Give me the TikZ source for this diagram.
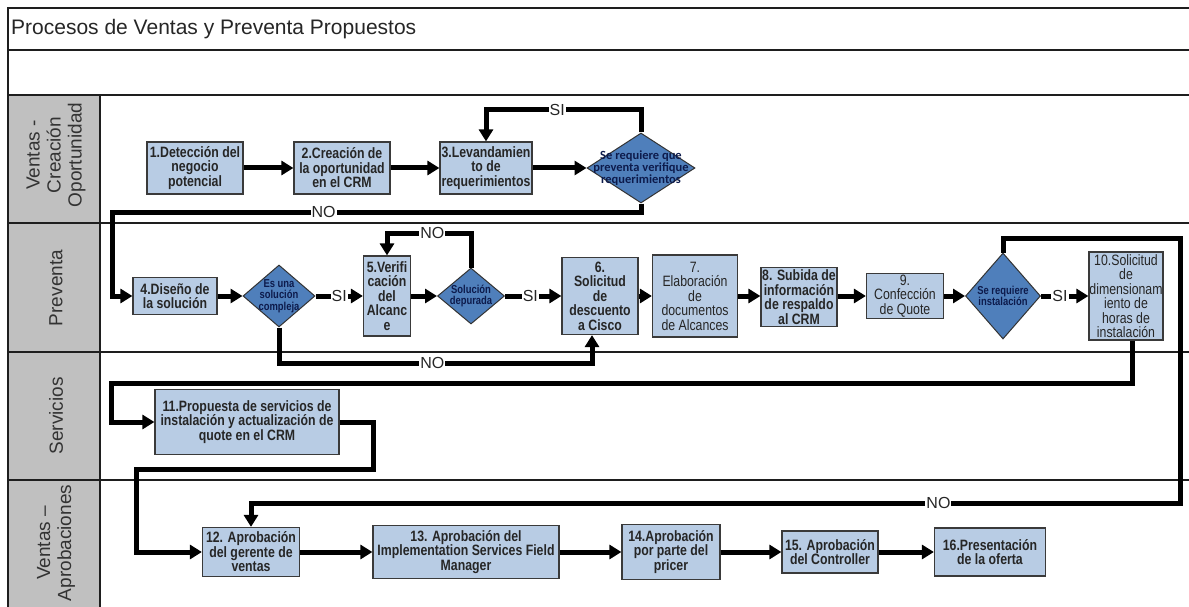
\documentclass[tikz,border=0pt]{standalone}
\usepackage{fontspec}
\setmainfont{Liberation Sans}
\newfontfamily\nar{Liberation Sans}[FakeStretch=0.82]
\newfontfamily\carl{Carlito}
\usetikzlibrary{arrows.meta,shapes.geometric}
\definecolor{boxblue}{HTML}{B8CCE4}
\definecolor{diablue}{HTML}{4F7FBB}
\definecolor{lanegray}{HTML}{C0C0C0}
\definecolor{navy}{HTML}{0D1B4C}
\definecolor{framecol}{HTML}{1E1E1E}
\definecolor{boxedge}{HTML}{3A3A3A}
\begin{document}
\begin{tikzpicture}[x=1pt,y=-1pt,
  box/.style={draw=boxedge, line width=1.2pt, fill=boxblue, align=center, inner sep=0pt,
    font=\nar\bfseries\fontsize{15}{14.5}\selectfont, text=black!85},
  boxr/.style={box, font=\nar\fontsize{15}{14.5}\selectfont},
  dia/.style={diamond, draw=black!80, line width=1pt, fill=diablue, inner sep=0pt},
  dtxt/.style={align=center, inner sep=0pt, text=navy, font=\nar\bfseries\fontsize{11.5}{11.5}\selectfont},
  conn/.style={line width=5pt, -{Triangle[length=12pt,width=14pt]}},
  lbl/.style={fill=white, inner sep=1pt, font=\fontsize{16}{16}\selectfont, text=black!85},
  lane/.style={rotate=90, align=center, font=\fontsize{19}{21}\selectfont, text=black!80},
  frameln/.style={draw=framecol, line width=1.6pt}
]
\useasboundingbox (0,0) rectangle (1189,607);
\fill[white] (0,0) rectangle (1189,607);
% frame
\fill[lanegray] (8,95) rectangle (100,607);
\draw[frameln] (8,607) -- (8,8) -- (1189,8);
\draw[frameln] (8,50) -- (1189,50);
\draw[frameln] (8,95) -- (1189,95);
\draw[frameln] (8,223) -- (1189,223);
\draw[frameln] (8,352) -- (1189,352);
\draw[frameln] (8,480) -- (1189,480);
\draw[frameln] (100,95) -- (100,607);
\node[anchor=west, inner sep=0pt, font=\fontsize{21}{21}\selectfont, text=black!85] (title) at (11,29) {Procesos de Ventas y Preventa Propuestos};
% lane labels
\node[lane] (L1) at (56,155) {Ventas -\\Creación\\Oportunidad};
\node[lane] (L2) at (56,288) {Preventa};
\node[lane] (L3) at (56,416) {Servicios};
\node[lane] (L4) at (56,543) {Ventas –\\Aprobaciones};
% lane 1
\node[box, minimum width=96pt, minimum height=52pt] (b1) at (195,168) {1.Detección del\\negocio\\potencial};
\node[box, minimum width=96pt, minimum height=52pt] (b2) at (342,168) {2.Creación de\\la oportunidad\\en el CRM};
\node[box, minimum width=92pt, minimum height=52pt] (b3) at (486,168) {3.Levandamien\\to de\\requerimientos};
\node[dia, minimum width=108pt, minimum height=70pt] (d1) at (641,168) {};
\node[dtxt, font=\carl\bfseries\fontsize{12.5}{10.5}\selectfont] (d1t) at (d1) {Se requiere que\\preventa verifique\\requerimientos};
% lane 2
\node[box, minimum width=84pt, minimum height=37pt] (b4) at (175,296) {4.Diseño de\\la solución};
\node[dia, minimum width=72pt, minimum height=62pt] (d2) at (279,296) {};
\node[dtxt] (d2t) at (d2) {Es una\\solución\\compleja};
\node[box, minimum width=47pt, minimum height=80pt] (b5) at (387,296) {5.Verifi\\cación\\del\\Alcanc\\e};
\node[dia, minimum width=67pt, minimum height=56pt] (d3) at (471,296) {};
\node[dtxt] (d3t) at (d3) {Solución\\depurada};
\node[box, minimum width=76pt, minimum height=77pt] (b6) at (600,296) {6.\\Solicitud\\de\\descuento\\a Cisco};
\node[boxr, minimum width=85pt, minimum height=82pt] (b7) at (695,296) {7.\\Elaboración\\de\\documentos\\de Alcances};
\node[box, minimum width=76pt, minimum height=59pt] (b8) at (799,297) {8. Subida de\\información\\de respaldo\\al CRM};
\node[boxr, minimum width=77pt, minimum height=45pt] (b9) at (905,296) {9.\\Confección\\de Quote};
\node[dia, minimum width=75pt, minimum height=86pt] (d4) at (1003,296) {};
\node[dtxt] (d4t) at (d4) {Se requiere\\instalación};
\node[boxr, minimum width=74pt, minimum height=88pt] (b10) at (1126,296) {10.Solicitud\\de\\dimensionam\\iento de\\horas de\\instalación};
% lane 3
\node[box, minimum width=184pt, minimum height=65pt] (b11) at (247,422) {11.Propuesta de servicios de\\instalación y actualización de\\quote en el CRM};
% lane 4
\node[box, minimum width=97pt, minimum height=49pt] (b12) at (251,552) {12. Aprobación\\del gerente de\\ventas};
\node[box, minimum width=186pt, minimum height=53pt] (b13) at (466,552) {13. Aprobación del\\Implementation Services Field\\Manager};
\node[box, minimum width=98pt, minimum height=55pt] (b14) at (671,552) {14.Aprobación\\por parte del\\pricer};
\node[box, minimum width=96pt, minimum height=42pt] (b15) at (830,552) {15. Aprobación\\del Controller};
\node[box, minimum width=111pt, minimum height=48pt] (b16) at (990,552) {16.Presentación\\de la oferta};
% helper coordinates
\coordinate (t110) at (0,110);
\coordinate (t212) at (0,212);
\coordinate (t233) at (0,233);
\coordinate (t363) at (0,363);
\coordinate (t238) at (0,238);
\coordinate (t503) at (0,503);
\coordinate (t383) at (0,383);
\coordinate (t469) at (0,469);
\coordinate (xa) at (112,0);
\coordinate (xb) at (1180,0);
\coordinate (xc) at (111,0);
\coordinate (xd) at (373,0);
\coordinate (xe) at (136,0);
\coordinate (b6s) at ([xshift=-8pt]b6.south);
\coordinate (b10s) at ([xshift=6pt]b10.south);
% connectors lane 1
\draw[conn] (b1) -- (b2);
\draw[conn] (b2) -- (b3);
\draw[conn] (b3) -- (d1);
\draw[conn] (d1.north) -- (d1.north |- t110) -- node[lbl, pos=.54] (lsi1) {SI} (b3.north |- t110) -- (b3.north);
\draw[conn] (d1.south) -- (d1.south |- t212) -- node[lbl, pos=.6] (lno1) {NO} (xa |- t212) -- (xa |- b4.west) -- (b4.west);
% lane 2
\draw[conn] (b4) -- (d2);
\draw[conn] (d2) -- node[lbl, pos=.5] (lsi2) {SI} (b5);
\draw[conn] (b5) -- (d3);
\draw[conn] (d3.north) -- (d3.north |- t233) -- node[lbl, pos=.46] (lno2) {NO} (b5.north |- t233) -- (b5.north);
\draw[conn] (d3) -- node[lbl, pos=.45] (lsi3) {SI} (b6);
\draw[conn] (d2.south) -- (d2.south |- t363) -- node[lbl, pos=.49] (lno3) {NO} (b6s |- t363) -- (b6s);
\draw[conn] (b6) -- (b7);
\draw[conn] (b7) -- (b8.west |- b7.east);
\draw[conn] (b8.east |- b9.west) -- (b9.west);
\draw[conn] (b9) -- (d4);
\draw[conn] (d4) -- node[lbl, pos=.4] (lsi4) {SI} (b10);
\draw[conn] (d4.north) -- (d4.north |- t238) -- (xb |- t238) -- (xb |- t503) -- node[lbl, pos=.26] (lno4) {NO} (b12.north |- t503) -- (b12.north);
% lane 3
\draw[conn] (b10s) -- (b10s |- t383) -- (xc |- t383) -- (xc |- b11.west) -- (b11.west);
\draw[conn] (b11.east) -- (xd |- b11.east) -- (xd |- t469) -- (xe |- t469) -- (xe |- b12.west) -- (b12.west);
% lane 4
\draw[conn] (b12) -- (b13);
\draw[conn] (b13) -- (b14);
\draw[conn] (b14) -- (b15);
\draw[conn] (b15) -- (b16);
\end{tikzpicture}
\end{document}
